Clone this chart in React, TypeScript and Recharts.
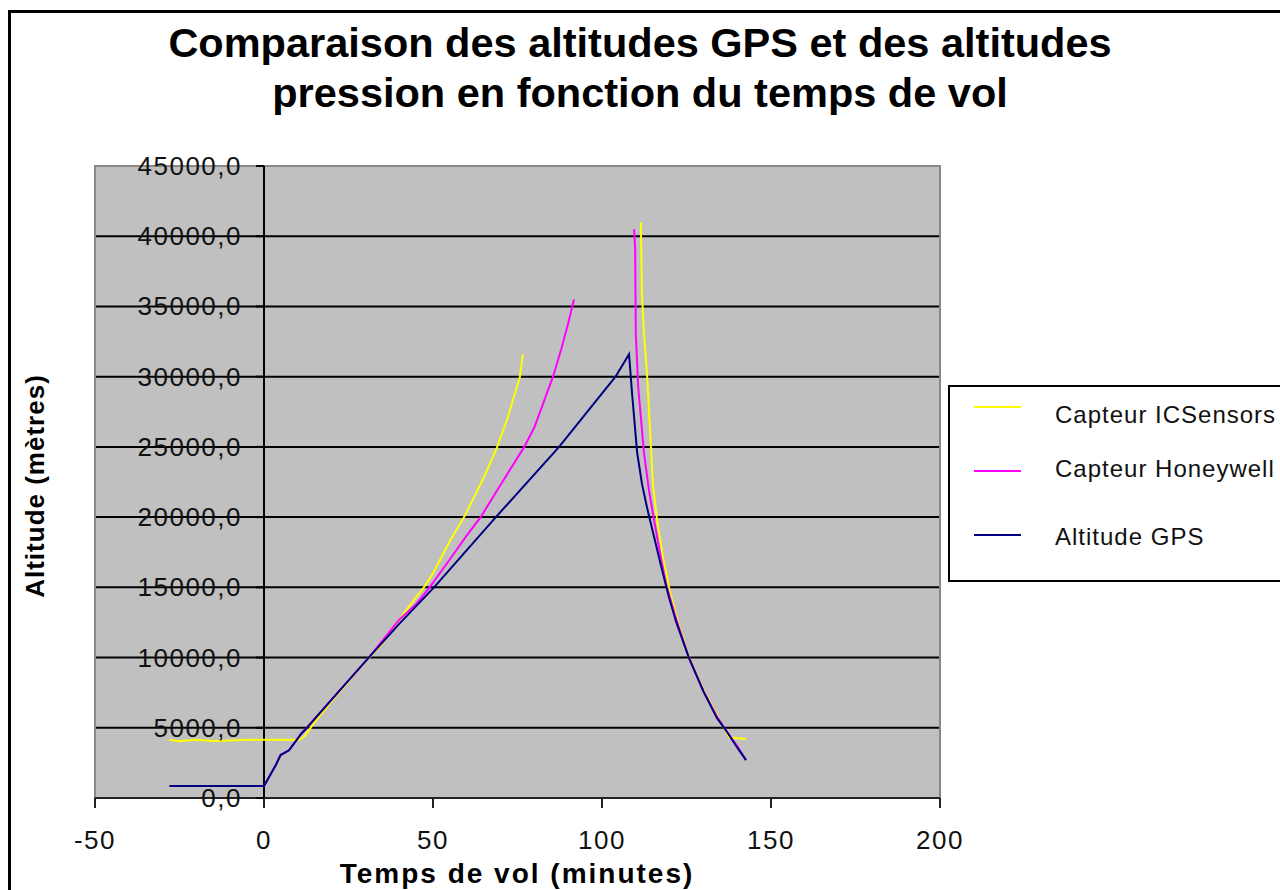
import React from "react"
import {
   LineChart,
   Line,
   XAxis,
   YAxis,
   CartesianGrid,
   ReferenceLine,
   ReferenceArea,
   Legend,
} from "recharts"

// ICSensors pressure sensor (minutes, metres); null splits the ascent from the descent
const icsTime = [
   -28, -25, -20, -15, -10, -5, 0, 5, 10.4, 12, 15, 20, 25, 30, 35, 40, 45, 47.3, 50, 55, 59.2, 65, 69, 72,
   75.7, 76.6, 94, 111.5, 111.8, 112.4, 113.3, 113.9, 114.5, 115.1, 116.3, 118, 120, 122.5, 125.8, 130,
   134, 137.6, 142.6,
]
const icsAlt = [
   4150, 4050, 4150, 4060, 4100, 4150, 4150, 4150, 4150, 4400, 5400, 6900, 8300, 9700, 11000, 12700, 14300,
   15000, 16000, 18300, 20000, 22800, 25000, 27000, 30000, 31600, null, 41000, 36000, 33100, 30300, 27600,
   24900, 22200, 19800, 17200, 14800, 12500, 10000, 7700, 5900, 4300, 4200,
]

// Honeywell pressure sensor
const honTime = [
   0, 1.5, 3.5, 4.9, 7.4, 11.2, 12.7, 20, 31, 40, 45, 49, 55, 60, 64.1, 70, 77, 80, 85.5, 88, 90, 91.7, 100,
   109.5, 109.8, 110, 110.7, 111.5, 112.4, 113.9, 115.4, 117.5, 119, 122, 125.7, 130, 134, 137, 140, 142.6,
]
const honAlt = [
   850, 1500, 2350, 3060, 3400, 4630, 5000, 7000, 10000, 12700, 13800, 15000, 17000, 18700, 20000, 22300,
   25000, 26400, 30000, 32000, 33800, 35500, null, 40500, 39200, 33100, 29300, 27100, 24600, 21900, 19800,
   17000, 15200, 12700, 10000, 7600, 5800, 4700, 3700, 2700,
]

// GPS altitude
const gpsTime = [
   -28, -10, 0, 1.5, 3.5, 4.9, 7.4, 11.2, 12.7, 20, 31, 40, 50.3, 68.6, 87.3, 104, 108, 108.9, 109.5, 110.4,
   111.8, 113.3, 115.4, 117.5, 119.8, 122, 125.7, 130, 134, 137, 140, 142.6,
]
const gpsAlt = [
   850, 850, 850, 1500, 2350, 3060, 3400, 4630, 5000, 7000, 10000, 12400, 15000, 20000, 25000, 30000, 31600,
   28800, 27100, 24600, 22400, 20700, 18600, 16500, 14300, 12500, 10000, 7600, 5700, 4700, 3600, 2700,
]

const xTicks = [-50, 0, 50, 100, 150, 200]
const yTicks = [0, 5000, 10000, 15000, 20000, 25000, 30000, 35000, 40000, 45000]
const gridValues = [5000, 10000, 15000, 20000, 25000, 30000, 35000, 40000]

const toPoints = (t: number[], alt: (number | null)[]) => t.map((v, i) => ({ t: v, alt: alt[i] }))

const series = [
   { name: "Capteur ICSensors", color: "#ffff00", data: toPoints(icsTime, icsAlt) },
   { name: "Capteur Honeywell", color: "#ff00ff", data: toPoints(honTime, honAlt) },
   { name: "Altitude GPS", color: "#000080", data: toPoints(gpsTime, gpsAlt) },
]

const FONT = '"Liberation Sans", Arial, sans-serif'
const W = 1280
const H = 890
const PLOT_LEFT = 95
const PLOT_RIGHT = 940
const X_MIN = -50
const X_MAX = 200
// pixel position of the vertical axis, which crosses at t = 0
const ZERO_X = PLOT_LEFT + ((0 - X_MIN) / (X_MAX - X_MIN)) * (PLOT_RIGHT - PLOT_LEFT)

const legendRows = [
   { lineY: 22, textY: 30 },
   { lineY: 86, textY: 84 },
   { lineY: 150, textY: 152 },
]

const YTick = (props: any) => {
   const { y, payload } = props
   const label = Number(payload.value).toFixed(1).replace(".", ",")
   return (
      <g>
         <line x1={ZERO_X - 8} x2={ZERO_X} y1={y} y2={y} stroke="#000" strokeWidth={2} />
         <text
            x={ZERO_X - 22}
            y={y}
            textAnchor="end"
            dominantBaseline="central"
            fontFamily={FONT}
            fontSize={26}
            letterSpacing={1.5}
            fill="#111"
         >
            {label}
         </text>
      </g>
   )
}

const XTick = (props: any) => {
   const { x, y, payload } = props
   return (
      <text
         x={x}
         y={y + 30}
         textAnchor="middle"
         dominantBaseline="central"
         fontFamily={FONT}
         fontSize={26}
         letterSpacing={1.5}
         fill="#111"
      >
         {payload.value}
      </text>
   )
}

const LegendBox = (props: any) => {
   const { payload = [] } = props
   // keep the series order (ICSensors, Honeywell, GPS) from top to bottom
   const rows = [...payload].sort(
      (a: any, b: any) =>
         series.findIndex((s) => s.name === a.value) - series.findIndex((s) => s.name === b.value)
   )
   return (
      <div
         style={{
            position: "relative",
            width: 340,
            height: 197,
            boxSizing: "border-box",
            border: "2px solid #000",
            background: "#fff",
            fontFamily: FONT,
         }}
      >
         {rows.map((entry: any, i: number) => (
            <React.Fragment key={entry.value}>
               <div
                  style={{
                     position: "absolute",
                     left: 24,
                     top: legendRows[i].lineY - 3,
                     width: 47,
                     height: 2,
                     background: entry.color,
                  }}
               />
               <div
                  style={{
                     position: "absolute",
                     left: 105,
                     top: legendRows[i].textY - 17,
                     height: 30,
                     lineHeight: "30px",
                     fontSize: 24,
                     letterSpacing: 1,
                     color: "#111",
                     whiteSpace: "nowrap",
                  }}
               >
                  {entry.value}
               </div>
            </React.Fragment>
         ))}
      </div>
   )
}

export default function App() {
   return (
      <div
         style={{
            position: "fixed",
            left: 0,
            top: 0,
            width: W,
            height: H,
            background: "#fff",
            overflow: "hidden",
            fontFamily: FONT,
         }}
      >
         <div
            style={{
               position: "absolute",
               left: 8,
               top: 10,
               width: W + 40,
               height: H + 40,
               border: "3px solid #000",
            }}
         />
         <div
            style={{
               position: "absolute",
               left: 0,
               width: W,
               top: 18,
               textAlign: "center",
               fontWeight: "bold",
               fontSize: 41.5,
               lineHeight: "50px",
               color: "#000",
            }}
         >
            Comparaison des altitudes GPS et des altitudes
            <br />
            pression en fonction du temps de vol
         </div>
         <div
            style={{
               position: "absolute",
               left: 35,
               top: 486,
               transform: "translate(-50%, -50%) rotate(-90deg)",
               fontWeight: "bold",
               fontSize: 26,
               letterSpacing: 1,
               whiteSpace: "nowrap",
               color: "#000",
            }}
         >
            Altitude (mètres)
         </div>
         <div
            style={{
               position: "absolute",
               left: 517,
               top: 874,
               transform: "translate(-50%, -50%)",
               fontWeight: "bold",
               fontSize: 28,
               letterSpacing: 2,
               whiteSpace: "nowrap",
               color: "#000",
            }}
         >
            Temps de vol (minutes)
         </div>
         <div style={{ position: "absolute", left: 0, top: 0 }}>
            <LineChart width={W} height={H} margin={{ top: 166, right: W - PLOT_RIGHT, bottom: 32, left: 0 }}>
               <CartesianGrid
                  vertical={false}
                  horizontalValues={gridValues}
                  stroke="#000"
                  strokeWidth={2}
                  fill="#c0c0c0"
                  fillOpacity={1}
               />
               <ReferenceArea
                  x1={X_MIN}
                  x2={X_MAX}
                  y1={0}
                  y2={45000}
                  fill="none"
                  stroke="#888"
                  strokeWidth={2}
               />
               <XAxis
                  type="number"
                  dataKey="t"
                  domain={[X_MIN, X_MAX]}
                  ticks={xTicks}
                  interval={0}
                  height={60}
                  allowDataOverflow
                  axisLine={{ stroke: "#222", strokeWidth: 2 }}
                  tickLine={{ stroke: "#222", strokeWidth: 2 }}
                  tickSize={10}
                  tick={<XTick />}
               />
               <YAxis
                  type="number"
                  dataKey="alt"
                  domain={[0, 45000]}
                  ticks={yTicks}
                  interval={0}
                  width={PLOT_LEFT}
                  axisLine={false}
                  tickLine={false}
                  tick={<YTick />}
               />
               <ReferenceLine x={0} stroke="#000" strokeWidth={2} />
               <Legend
                  layout="vertical"
                  align="center"
                  verticalAlign="middle"
                  wrapperStyle={{ position: "absolute", left: 948, top: 385, width: 340, height: 197 }}
                  content={<LegendBox />}
               />
               {series.map((s) => (
                  <Line
                     key={s.name}
                     name={s.name}
                     data={s.data}
                     dataKey="alt"
                     type="linear"
                     stroke={s.color}
                     strokeWidth={2}
                     dot={false}
                     activeDot={false}
                     isAnimationActive={false}
                  />
               ))}
            </LineChart>
         </div>
      </div>
   )
}
